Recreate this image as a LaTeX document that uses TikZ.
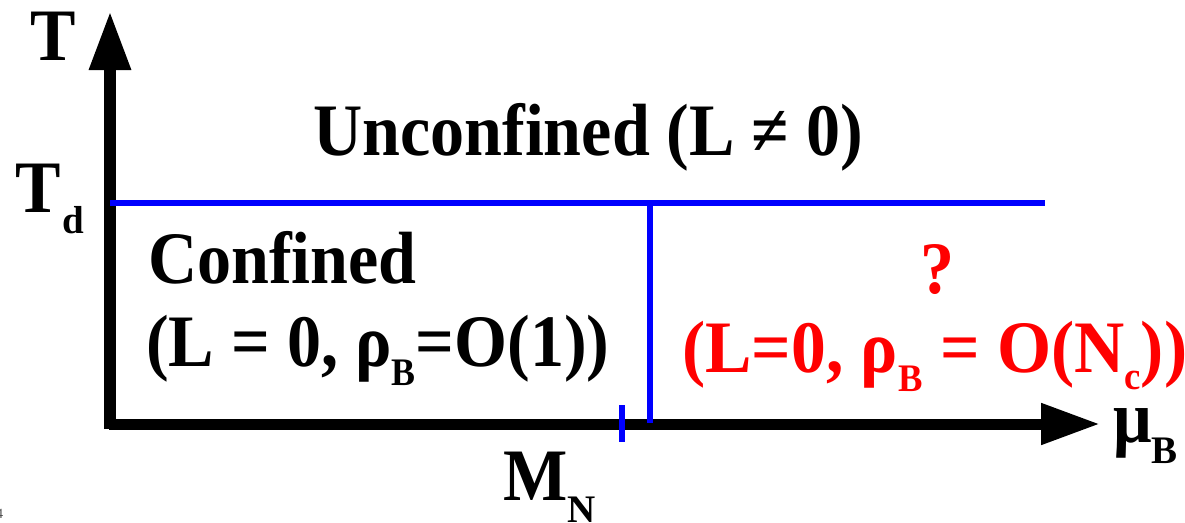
\documentclass[tikz,border=0pt]{standalone}
\usepackage{fontspec}
\setmainfont{Liberation Serif}
\usetikzlibrary{arrows.meta}
\newcommand{\lbl}[2][0.92]{\scalebox{#1}[1]{\fontsize{74}{80}\selectfont\bfseries #2}}
\newcommand{\mysubs}[2][19pt]{\raisebox{-#1}{\fontsize{39}{39}\selectfont\bfseries #2}}
\definecolor{pblue}{RGB}{0,0,255}
\definecolor{pred}{RGB}{255,0,0}
\tikzset{
  txt/.style={inner sep=0pt, anchor=base west},
  axis/.style={line width=12pt, -{Triangle[length=59pt,width=39pt]}},
  phase/.style={draw=pblue, line width=6.5pt},
}
\begin{document}
\begin{tikzpicture}[x=1pt,y=-1pt]
\useasboundingbox (0,0) rectangle (1185,522);
% axes
\coordinate (O1) at (110,429);
\coordinate (Ttip) at (110,11);
\coordinate (O2) at (109,424);
\coordinate (Mtip) at (1100,424);
\draw[axis] (O1) -- (Ttip);
\draw[axis,line width=11pt] (O2) -- (Mtip);
% phase lines
\coordinate (Ha) at (110,203);
\coordinate (Hb) at (1045,203);
\coordinate (Va) at (650,203);
\coordinate (Vb) at (650,423);
\coordinate (Ka) at (622,405);
\coordinate (Kb) at (622,442);
\draw[phase] (Ha) -- (Hb);
\draw[phase] (Va) -- (Vb);
\draw[phase] (Ka) -- (Kb);
% labels
\node[txt] (T) at (30,60) {\lbl{T}};
\node[txt] (Td) at (15,212) {\lbl{T}\hspace{2pt}\mysubs[21pt]{d}};
\node[txt] (unc) at (313,155) {\lbl{Unconfined (L ≠ 0)}};
\node[txt] (conf) at (148,283) {\lbl{Confined}};
\node[txt] (conf2) at (146,366) {\lbl{(L = 0, ρ\mysubs{B}=O(1))}};
\node[txt,text=pred] (q) at (920,293) {\lbl{?}};
\node[txt,text=pred] (red) at (682,372) {\lbl[0.94]{(L=0, ρ\mysubs{B} = O(N\mysubs[17pt]{c}))}};
\node[txt] (MN) at (503,500) {\lbl{M}\mysubs[22pt]{N}};
\node[txt] (muB) at (1113,442) {\lbl{μ}\mysubs[21pt]{B}};
\node[txt,text=black!70] (pg) at (-4,518) {\fontsize{14}{14}\selectfont 4};
\end{tikzpicture}
\end{document}
